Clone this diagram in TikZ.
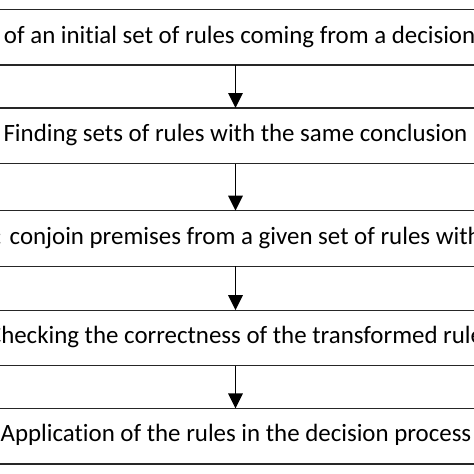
\documentclass[tikz,border=0pt]{standalone}
\usepackage{fontspec}
\setmainfont{Carlito}[Ligatures=NoCommon]
\usetikzlibrary{arrows.meta}
\tikzset{
  stepbox/.style={draw=black!85, line width=1.2pt, minimum width=700pt, minimum height=55.5pt, inner sep=0pt, outer sep=0pt},
  steptext/.style={inner sep=0pt, outer sep=0pt, font=\fontsize{24.9}{29}\selectfont},
  flowarrow/.style={draw=black, line width=1.9pt, -{Triangle[width=14.4pt,length=15pt]}, shorten >=0pt}
}
\begin{document}
\begin{tikzpicture}[x=1pt,y=-1pt]
\useasboundingbox (0,0) rectangle (474,474);
\clip (0,0) rectangle (474,474);
\fill[white] (0,0) rectangle (474,474);
\node[stepbox] (b1) at (235.5,37.25) {};
\node[stepbox] (b2) at (235.5,135.75) {};
\node[stepbox] (b3) at (235.5,238.35) {};
\node[stepbox] (b4) at (235.5,337.85) {};
\node[stepbox] (b5) at (235.5,436.15) {};
\node[steptext, anchor=base west] (t1) at (4,43) {of an initial set of rules coming from a decision};
\node[steptext, anchor=base] (t2) at (235.5,141.7) {Finding sets of rules with the same conclusion};
\node[steptext, anchor=base west] (t3) at (-4.5,244) {: conjoin premises from a given set of rules with};
\node[steptext, anchor=base west] (t4) at (-12,343.3) {Checking the correctness of the transformed rule};
\node[steptext, anchor=base] (t5) at (236,441.7) {Application of the rules in the decision process};
\draw[flowarrow] (b1.south) -- (b2.north);
\draw[flowarrow] (b2.south) -- (b3.north);
\draw[flowarrow] (b3.south) -- (b4.north);
\draw[flowarrow] (b4.south) -- (b5.north);
\end{tikzpicture}
\end{document}
